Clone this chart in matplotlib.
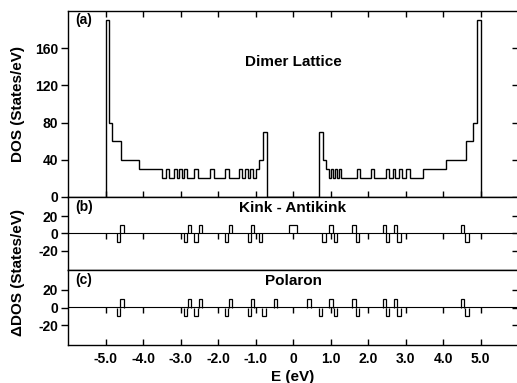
import numpy as np
import matplotlib.pyplot as plt

plt.rcParams['font.family'] = ['Liberation Sans', 'DejaVu Sans']
plt.rcParams['font.weight'] = 'bold'
plt.rcParams['axes.labelweight'] = 'bold'
plt.rcParams['font.size'] = 10
plt.rcParams['axes.unicode_minus'] = False

# (a) dimer lattice DOS: step edges (eV) and heights (States/eV)
dos_edges = [-5.0, -4.9, -4.82, -4.6, -4.1, -3.5, -3.4, -3.3, -3.18, -3.1,
             -3.05, -2.97, -2.92, -2.84, -2.63, -2.54, -2.21, -2.12, -1.81, -1.71,
             -1.43, -1.35, -1.29, -1.21, -1.15, -1.07, -1.0, -0.9, -0.8, -0.7,
             0.7, 0.79, 0.87, 0.96, 1.0, 1.06, 1.11, 1.18, 1.22, 1.28,
             1.70, 1.79, 2.08, 2.17, 2.47, 2.55, 2.66, 2.73, 2.82, 2.91,
             3.02, 3.11, 3.46, 4.08, 4.6, 4.8, 4.9, 5.0]
dos_values = [190, 80, 60, 40, 30, 20, 30, 20, 30, 20,
              30, 20, 30, 20, 30, 20, 30, 20, 30, 20,
              30, 20, 30, 20, 30, 20, 30, 40, 70,
              0,
              70, 40, 30, 20, 30, 20, 30, 20, 30, 20,
              30, 20, 30, 20, 30, 20, 30, 20, 30, 20,
              30, 20, 30, 40, 60, 80, 190]

# (b) kink - antikink: change in DOS, each pulse = start, end, height
ka_start = [-4.70, -4.61, -2.91, -2.81, -2.63, -2.51, -1.81, -1.71, -1.19, -1.11,
            -0.91, -0.10, 0.78, 0.97, 1.09, 1.58, 1.69, 2.39, 2.49, 2.69, 2.78, 4.49, 4.59]
ka_end = [-4.61, -4.52, -2.83, -2.72, -2.54, -2.42, -1.73, -1.62, -1.11, -1.03,
          -0.83, 0.10, 0.87, 1.06, 1.18, 1.67, 1.77, 2.48, 2.57, 2.77, 2.87, 4.57, 4.68]
ka_height = [-10, 10, -10, 10, -10, 10, -10, 10, -10, 10,
             -10, 10, -10, 10, -10, 10, -10, 10, -10, 10, -10, 10, -10]

# (c) polaron
pol_start = [-4.70, -4.61, -2.91, -2.81, -2.63, -2.51, -1.81, -1.71, -1.19, -1.11,
             -0.82, -0.52, 0.38, 0.68, 0.97, 1.09, 1.58, 1.69, 2.39, 2.49, 2.69, 2.78, 4.49, 4.59]
pol_end = [-4.61, -4.52, -2.83, -2.72, -2.54, -2.42, -1.73, -1.62, -1.11, -1.03,
           -0.73, -0.43, 0.47, 0.77, 1.06, 1.18, 1.67, 1.77, 2.48, 2.57, 2.77, 2.87, 4.57, 4.68]
pol_height = [-10, 10, -10, 10, -10, 10, -10, 10, -10, 10,
              -10, 10, 10, -10, 10, -10, 10, -10, 10, -10, 10, -10, 10, -10]

e_ticks = [-5, -4, -3, -2, -1, 0, 1, 2, 3, 4, 5]
e_labels = ['-5.0', '-4.0', '-3.0', '-2.0', '-1.0', '0', '1.0', '2.0', '3.0', '4.0', '5.0']
dos_ticks = [0, 40, 80, 120, 160]
ddos_ticks = [-20, 0, 20]

W, H = 517, 383
fig = plt.figure(figsize=(W / 100, H / 100), dpi=100)
left, width = 68 / W, 450 / W
ax_a = fig.add_axes([left, 1 - 197 / H, width, 186 / H])
ax_b = fig.add_axes([left, 1 - 270 / H, width, 73 / H])
ax_c = fig.add_axes([left, 1 - 345 / H, width, 75 / H])

for ax, yt in ((ax_a, dos_ticks), (ax_b, ddos_ticks), (ax_c, ddos_ticks)):
    ax.set_xlim(-6.0, 6.0)
    ax.set_xticks(e_ticks)
    ax.set_yticks(yt)
    ax.set_yticklabels([str(v) for v in yt])
    ax.tick_params(axis='y', direction='out', length=5, width=1, pad=2, labelsize=10)
    ax.tick_params(axis='x', direction='in', length=4, width=1, labelbottom=False)
    for s in ax.spines.values():
        s.set_linewidth(1.0)
    # ticks on the right edge point inward
    sec = ax.secondary_yaxis('right')
    sec.set_yticks(yt)
    sec.set_yticklabels([''] * len(yt))
    sec.tick_params(direction='in', length=4, width=1)

# (a)
ax_a.stairs(dos_values, dos_edges, baseline=0, color='k', lw=1.0)
ax_a.set_ylim(0, 200)
ax_a.tick_params(axis='x', top=True, bottom=True)
ax_a.text(-5.8, 190, '(a)', ha='left', va='center', fontsize=10)
ax_a.text(0, 145, 'Dimer Lattice', ha='center', va='center', fontsize=11)

# (b) and (c)
panels = [(ax_b, ka_start, ka_end, ka_height, '(b)', 'Kink - Antikink'),
          (ax_c, pol_start, pol_end, pol_height, '(c)', 'Polaron')]
for ax, st, en, hh, tag, title in panels:
    for s, e, h in zip(st, en, hh):
        ax.stairs([h], [s, e], baseline=0, color='k', lw=0.9)
    ax.set_ylim(-42.5, 42.5)
    ax.tick_params(axis='x', top=False, bottom=False)
    zero = ax.secondary_xaxis(0.5)
    zero.set_xticks(e_ticks)
    zero.set_xticklabels([''] * len(e_ticks))
    zero.tick_params(direction='in', length=4, width=1)
    zero.spines['bottom'].set_linewidth(1.0)
    ax.text(-5.8, 31, tag, ha='left', va='center', fontsize=10)
    ax.text(0, 30, title, ha='center', va='center', fontsize=11)

ax_c.tick_params(axis='x', bottom=True, labelbottom=True, pad=5, labelsize=10)
ax_c.set_xticklabels(e_labels)
ax_c.set_xlabel('E (eV)', fontsize=11, labelpad=3)

fig.text(0.035, 1 - 104 / H, 'DOS (States/eV)', rotation=90, ha='center', va='center', fontsize=11)
fig.text(0.035, 1 - 272 / H, '\u0394DOS (States/eV)', rotation=90, ha='center', va='center', fontsize=11)

fig.savefig('out.png', dpi=100)
